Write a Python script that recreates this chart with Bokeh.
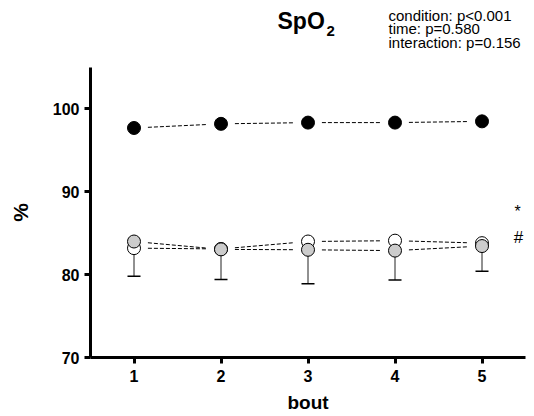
import numpy as np
from bokeh.plotting import figure
from bokeh.layouts import column
from bokeh.models import Label, Whisker, TeeHead, ColumnDataSource, FixedTicker, Range1d
from bokeh.embed import file_html
from bokeh.resources import INLINE

# ---- data ----
bouts = [1, 2, 3, 4, 5]
normoxia = [97.7, 98.2, 98.35, 98.35, 98.5]          # black
hypoxia_a = [83.2, 83.1, 84.0, 84.1, 83.8]           # white
hypoxia_b = [84.0, 83.05, 83.0, 82.9, 83.45]         # grey
hypoxia_b_sd = [4.2, 3.65, 4.1, 3.55, 3.05]
y_ticks = [70, 80, 90, 100]
stats_lines = ["condition: p<0.001", "time: p=0.580", "interaction: p=0.156"]

FONT = "Liberation Sans"
TOP_H = 67
AX_X = (0.5, 5.5)
AX_Y = (70, 105)
PPU_X = 435 / (AX_X[1] - AX_X[0])
PPU_Y = 290 / (AX_Y[1] - AX_Y[0])


def xpix(px):  # page column -> data x (frame starts at page x 90)
    return AX_X[0] + (px - 90) / PPU_X


def ypix(py):  # page row -> data y (frame top at page y 67)
    return AX_Y[1] - (py - TOP_H) / PPU_Y


# ---------- header strip (title + statistics) ----------
head = figure(frame_width=435, frame_height=TOP_H,
              x_range=Range1d(*AX_X), y_range=Range1d(TOP_H, 0),
              x_axis_location=None, y_axis_location=None,
              output_backend="svg", toolbar_location=None,
              min_border_left=90, min_border_right=9, min_border_top=0, min_border_bottom=0)
head.outline_line_color = None
head.grid.visible = False
head.border_fill_color = "white"

head.add_layout(Label(x=xpix(277), y=20.5, text="SpO",
                      text_font=FONT, text_font_style="bold", text_font_size="23px",
                      text_baseline="middle", text_align="left", text_color="black"))
head.add_layout(Label(x=xpix(326), y=30.5, text="2",
                      text_font=FONT, text_font_style="bold", text_font_size="15px",
                      text_baseline="middle", text_align="left", text_color="black"))
for i, t in enumerate(stats_lines):
    head.add_layout(Label(x=xpix(388), y=14.5 + 13.8 * i, text=t,
                          text_font=FONT, text_font_size="15px",
                          text_baseline="middle", text_align="left", text_color="black"))

# ---------- main plot ----------
p = figure(frame_width=435, frame_height=290,
           x_range=Range1d(*AX_X), y_range=Range1d(*AX_Y),
           output_backend="svg", toolbar_location=None,
           min_border_left=90, min_border_top=0, min_border_right=9, min_border_bottom=59)
p.outline_line_color = None
p.grid.visible = False
p.background_fill_color = "white"
p.border_fill_color = "white"

for ax in (p.xaxis[0], p.yaxis[0]):
    ax.axis_line_width = 3
    ax.axis_line_color = "black"
    ax.major_tick_line_width = 3
    ax.major_tick_line_color = "black"
    ax.major_tick_out = 6
    ax.major_tick_in = 0
    ax.minor_tick_line_color = None
    ax.major_label_text_font = FONT
    ax.major_label_text_font_style = "bold"
    ax.major_label_text_font_size = "16px"
    ax.major_label_text_color = "black"
    ax.axis_label_text_font = FONT
    ax.axis_label_text_font_style = "bold"
    ax.axis_label_text_color = "black"

p.xaxis.ticker = FixedTicker(ticks=bouts)
p.yaxis.ticker = FixedTicker(ticks=y_ticks)
p.xaxis.major_label_standoff = 6
p.yaxis.major_label_standoff = 5
p.xaxis.axis_label = "bout"
p.yaxis.axis_label = "%"
p.xaxis.axis_label_text_font_size = "19px"
p.yaxis.axis_label_text_font_size = "21px"
p.xaxis.axis_label_standoff = 7
p.yaxis.axis_label_standoff = 18

x = np.array(bouts, dtype=float)
trim = 0.16


def dashed(vals):
    v = np.array(vals, dtype=float)
    dv = v[1:] - v[:-1]
    p.segment(x0=x[:-1] + trim, y0=v[:-1] + dv * trim,
              x1=x[1:] - trim, y1=v[1:] - dv * trim,
              line_color="black", line_width=1, line_dash="4 2")


dashed(normoxia)
dashed(hypoxia_a)
dashed(hypoxia_b)

lower = np.array(hypoxia_b) - np.array(hypoxia_b_sd)
src = ColumnDataSource(dict(x=bouts, upper=hypoxia_b, lower=lower))
p.add_layout(Whisker(source=src, base="x", upper="upper", lower="lower",
                     line_color="#222222", line_width=1,
                     upper_head=None,
                     lower_head=TeeHead(size=13, line_color="black", line_width=1.5)))

p.scatter(bouts, normoxia, size=13, fill_color="black", line_color="black")
p.scatter(bouts, hypoxia_a, size=13, fill_color="white", line_color="black", line_width=1)
p.scatter(bouts, hypoxia_b, size=13, fill_color="#cccccc", line_color="black", line_width=1)

p.add_layout(Label(x=xpix(517), y=ypix(211), text="*",
                   text_font=FONT, text_font_size="16px",
                   text_baseline="middle", text_align="center", text_color="black"))
p.add_layout(Label(x=xpix(518), y=ypix(237), text="#",
                   text_font=FONT, text_font_size="17px",
                   text_baseline="middle", text_align="center", text_color="black"))

layout = column(head, p, spacing=0)
open("out.html", "w").write(file_html(layout, INLINE))
